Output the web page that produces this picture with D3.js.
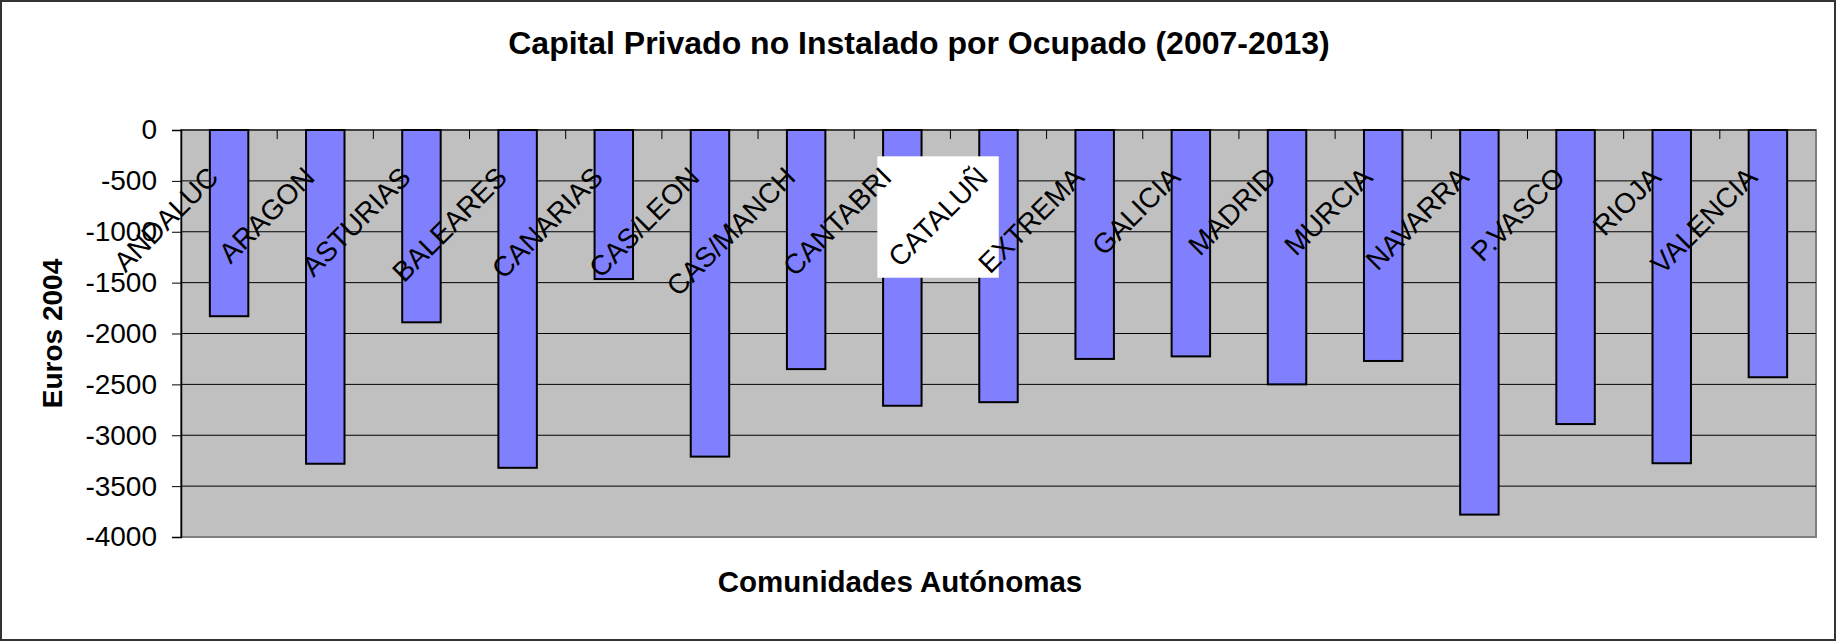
<!DOCTYPE html>
<html>
<head>
<meta charset="utf-8">
<script src="https://cdn.jsdelivr.net/npm/d3@7"></script>
<style>
  html, body { margin: 0; padding: 0; background: #fff; }
  svg { display: block; font-family: "Liberation Sans", Arial, sans-serif; }
</style>
</head>
<body>
<svg id="chart" width="1836" height="641"></svg>
<script>
// regions (category axis) and their values, euros 2004
const regions = ['ANDALUC', 'ARAGON', 'ASTURIAS', 'BALEARES', 'CANARIAS', 'CAS/LEON',
    'CAS/MANCH', 'CANTABRI', 'CATALUÑ', 'EXTREMA', 'GALICIA', 'MADRID', 'MURCIA',
    'NAVARRA', 'P.VASCO', 'RIOJA', 'VALENCIA']
const capital = [-1830, -3280, -1890, -3320, -1465, -3210, -2350, -2710, -2675,
    -2250, -2225, -2500, -2270, -3780, -2890, -3275, -2430]
const yTicks = [0, -500, -1000, -1500, -2000, -2500, -3000, -3500, -4000]
const boxedLabel = 'CATALUÑ'

const chartTitle = 'Capital Privado no Instalado por Ocupado (2007-2013)'
const xTitle = 'Comunidades Autónomas'
const yTitle = 'Euros 2004'

const width = 1836
const height = 641
const plot = { left: 181, right: 1816, top: 130, bottom: 537 }
const labelAngle = -45

const svg = d3.select('#chart')

// outer frame
svg.append('rect')
    .attr('x', 1).attr('y', 1)
    .attr('width', width - 2).attr('height', height - 2)
    .attr('fill', '#fff')
    .attr('stroke', '#333')
    .attr('stroke-width', 2)

const x = d3.scaleBand()
    .domain(regions)
    .range([plot.left, plot.right])
    .paddingInner(0.6)
    .paddingOuter(0.3)

const xBand = d3.scaleBand()
    .domain(regions)
    .range([plot.left, plot.right])
    .padding(0)

const y = d3.scaleLinear()
    .domain([-4000, 0])
    .range([plot.bottom, plot.top])

// plot area
svg.append('rect')
    .attr('x', plot.left).attr('y', plot.top)
    .attr('width', plot.right - plot.left)
    .attr('height', plot.bottom - plot.top)
    .attr('fill', '#c0c0c0')
    .attr('stroke', '#808080')
    .attr('stroke-width', 2)

// gridlines
svg.append('g')
    .selectAll('line')
    .data(yTicks.filter(d => d !== 0 && d !== -4000))
    .join('line')
    .attr('x1', plot.left).attr('x2', plot.right)
    .attr('y1', d => y(d)).attr('y2', d => y(d))
    .attr('stroke', '#000')
    .attr('stroke-width', 1)

// bars
svg.append('g')
    .selectAll('rect')
    .data(regions.map((r, i) => ({ region: r, value: capital[i] })))
    .join('rect')
    .attr('x', d => x(d.region))
    .attr('width', x.bandwidth())
    .attr('y', y(0))
    .attr('height', d => y(d.value) - y(0))
    .attr('fill', '#8080ff')
    .attr('stroke', '#000')
    .attr('stroke-width', 2)

// y axis (plain hyphen for negatives, as in the original)
const yAxis = svg.append('g')
    .attr('transform', `translate(${plot.left},0)`)
    .call(d3.axisLeft(y).tickValues(yTicks).tickSize(9).tickPadding(15).tickFormat(d => String(d)))
yAxis.select('.domain').attr('stroke', '#000').attr('stroke-width', 1.5)
yAxis.selectAll('.tick line').attr('stroke', '#000')
yAxis.selectAll('.tick text')
    .attr('font-size', 28)
    .attr('font-family', '"Liberation Sans", Arial, sans-serif')
    .attr('fill', '#000')

// category axis along the zero line (top)
const xAxis = svg.append('g')
    .attr('transform', `translate(0,${y(0)})`)
xAxis.append('line')
    .attr('x1', plot.left).attr('x2', plot.right)
    .attr('stroke', '#000').attr('stroke-width', 1)
xAxis.selectAll('line.cat-tick')
    .data(regions.slice(1))
    .join('line')
    .attr('class', 'cat-tick')
    .attr('x1', d => xBand(d)).attr('x2', d => xBand(d))
    .attr('y1', 0).attr('y2', 9)
    .attr('stroke', '#000')

const boxLayer = xAxis.append('g')

// rotated category labels
const labelPos = d => [xBand(d) + xBand.bandwidth() / 2 - 9, 49]
const labels = xAxis.selectAll('g.cat-label')
    .data(regions)
    .join('g')
    .attr('class', 'cat-label')
    .attr('transform', d => `translate(${labelPos(d)}) rotate(${labelAngle})`)

labels.append('text')
    .attr('text-anchor', 'end')
    .attr('font-size', 28)
    .attr('fill', '#000')
    .text(d => d)

// white, axis-aligned box behind one label
labels.filter(d => d === boxedLabel).each(function (d) {
    const b = d3.select(this).select('text').node().getBBox()
    const a = labelAngle * Math.PI / 180
    const [px, py] = labelPos(d)
    const corners = [[b.x, b.y], [b.x + b.width, b.y], [b.x, b.y + b.height], [b.x + b.width, b.y + b.height]]
        .map(([cx, cy]) => [px + cx * Math.cos(a) - cy * Math.sin(a), py + cx * Math.sin(a) + cy * Math.cos(a)])
    const xs = corners.map(c => c[0])
    const ys = corners.map(c => c[1])
    const pad = 5
    boxLayer.append('rect')
        .attr('x', d3.min(xs) - pad).attr('y', d3.min(ys) - pad)
        .attr('width', d3.max(xs) - d3.min(xs) + pad * 2)
        .attr('height', d3.max(ys) - d3.min(ys) + pad * 2)
        .attr('fill', '#fff')
})

// titles
svg.append('text')
    .attr('x', 919).attr('y', 54)
    .attr('text-anchor', 'middle')
    .attr('font-size', 32)
    .attr('font-weight', 'bold')
    .text(chartTitle)

svg.append('text')
    .attr('x', 900).attr('y', 592)
    .attr('text-anchor', 'middle')
    .attr('font-size', 29.5)
    .attr('font-weight', 'bold')
    .text(xTitle)

svg.append('text')
    .attr('transform', `translate(62,${(plot.top + plot.bottom) / 2}) rotate(-90)`)
    .attr('text-anchor', 'middle')
    .attr('font-size', 28)
    .attr('font-weight', 'bold')
    .text(yTitle)
</script>
</body>
</html>
